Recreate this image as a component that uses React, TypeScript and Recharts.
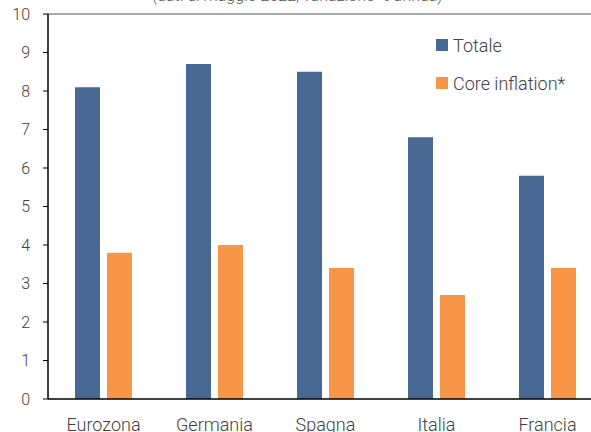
import React from 'react';
import { BarChart, Bar, XAxis, YAxis, ReferenceLine } from 'recharts';

const countries = ['Eurozona', 'Germania', 'Spagna', 'Italia', 'Francia'];
const totale = [8.1, 8.7, 8.5, 6.8, 5.8];
const core = [3.8, 4.0, 3.4, 2.7, 3.4];
const yTicks = [0, 1, 2, 3, 4, 5, 6, 7, 8, 9, 10];

const BLUE = '#476892';
const ORANGE = '#F79646';
const TEXT = '#404040';

const data = countries.map((name, i) => ({ name, totale: totale[i], core: core[i] }));

const legendItems = [
  { label: 'Totale', color: BLUE },
  { label: 'Core inflation*', color: ORANGE },
];

const App: React.FC = () => {
  return (
    <div style={{ position: 'fixed', left: 0, top: 0, width: 591, height: 432, overflow: 'hidden', background: '#fff' }}>
      {/* subtitle, cropped at the top edge like the source */}
      <div
        style={{
          position: 'absolute',
          left: 152,
          top: -12,
          fontFamily: 'Roboto',
          fontWeight: 300,
          fontSize: 16,
          lineHeight: '16px',
          color: '#555',
          whiteSpace: 'nowrap',
        }}
      >
        (dati di maggio 2022, variazione % annua)
      </div>
      <BarChart
        width={603}
        height={445}
        data={data}
        margin={{ top: 14, right: 0, left: 0, bottom: 16 }}
        barGap={7}
        barSize={25}
        style={{ fontFamily: 'Roboto', fontWeight: 300 }}
      >
        <XAxis
          dataKey="name"
          axisLine={{ stroke: '#000', strokeWidth: 1.5 }}
          tickLine={false}
          tick={{ fontSize: 18, fill: TEXT }}
          tickMargin={13}
          height={30}
        />
        <YAxis
          domain={[0, 10]}
          ticks={yTicks}
          width={48}
          axisLine={{ stroke: '#000', strokeWidth: 1.5 }}
          tickLine={{ stroke: '#000' }}
          tickSize={5}
          tickMargin={13}
          tick={{ fontSize: 16, fill: TEXT }}
        />
        <ReferenceLine y={10} stroke="#8c8c8c" strokeWidth={1.5} />
        <Bar dataKey="totale" fill={BLUE} isAnimationActive={false} />
        <Bar dataKey="core" fill={ORANGE} isAnimationActive={false} />
      </BarChart>
      <div
        style={{
          position: 'absolute',
          left: 436,
          top: 35,
          fontFamily: 'Roboto',
          fontWeight: 300,
          fontSize: 18,
          color: TEXT,
        }}
      >
        {legendItems.map((it) => (
          <div key={it.label} style={{ display: 'flex', alignItems: 'center', height: 20, marginBottom: 18 }}>
            <span style={{ width: 12, height: 12, background: it.color, marginRight: 5, display: 'inline-block' }} />
            {it.label}
          </div>
        ))}
      </div>
    </div>
  );
};

export default App;
